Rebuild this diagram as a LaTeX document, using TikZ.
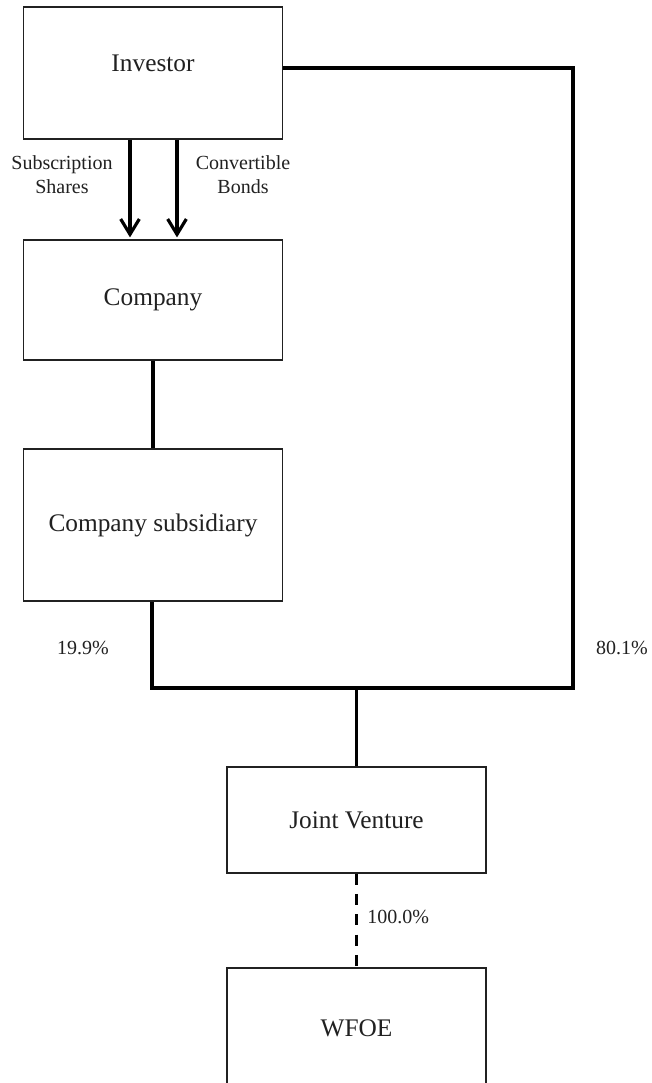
\documentclass[tikz,border=0pt]{standalone}
\usepackage{fontspec}
\setmainfont{Liberation Serif}
\usetikzlibrary{arrows.meta}
\definecolor{ink}{gray}{0.13}
\tikzset{
  box/.style={draw=ink, line width=0.9pt, rectangle, minimum width=194.25pt, inner sep=0pt, text=ink, font=\fontsize{19}{23}\selectfont},
  bigtxt/.style={inner sep=0pt, text=ink, font=\fontsize{19}{23}\selectfont},
  lbl/.style={inner sep=0pt, text=ink, align=center, font=\fontsize{15}{18}\selectfont},
  conn/.style={draw=black, line width=2.4pt},
  arr/.style={conn, -{Straight Barb[length=11.5pt, width=14pt, line width=2.4pt]}},
  dashconn/.style={conn, dash pattern=on 8.25pt off 7pt}
}
\begin{document}
\begin{tikzpicture}[x=0.75pt, y=-0.75pt]
\clip (0,0) rectangle (651,1083);
\fill[white] (0,0) rectangle (651,1083);
% boxes
\node[box, minimum height=99pt] (inv) at (153,73) {};
\node[bigtxt] (invt) at (153,63) {Investor};
\node[box, minimum height=90pt] (comp) at (153,300) {Company};
\node[box, minimum height=114pt] (sub) at (153,525) {Company subsidiary};
\node[box, minimum height=79.5pt] (jv) at (356.5,820) {Joint Venture};
\node[box, minimum height=90pt] (wfoe) at (356.5,1028) {WFOE};
% junction coordinates
\coordinate (invR) at (573,68);
\coordinate (jR) at (573,688);
\coordinate (jL) at (152,688);
\coordinate (jM) at (356.5,688);
% arrows
\draw[arr] ([xshift=-17.25pt]inv.south) -- ([xshift=-17.25pt,yshift=1.5pt]comp.north);
\draw[arr] ([xshift=18pt]inv.south) -- ([xshift=18pt,yshift=1.5pt]comp.north);
% connectors
\draw[conn] (comp.south) -- (sub.north);
\draw[conn, line join=miter] ([yshift=3.75pt]inv.east) -- (invR) -- (jR) -- (jL) -- ([xshift=-0.75pt]sub.south);
\draw[conn] (jM) -- (jv.north);
\draw[dashconn] (jv.south) -- (wfoe.north);
% labels
\node[lbl] (lsub) at (62,175) {Subscription\\Shares};
\node[lbl] (lconv) at (243,175) {Convertible\\Bonds};
\node[lbl] (l199) at (83,648) {19.9\%};
\node[lbl] (l801) at (622,648) {80.1\%};
\node[lbl, anchor=west] (l100) at (367,917) {100.0\%};
\end{tikzpicture}
\end{document}
